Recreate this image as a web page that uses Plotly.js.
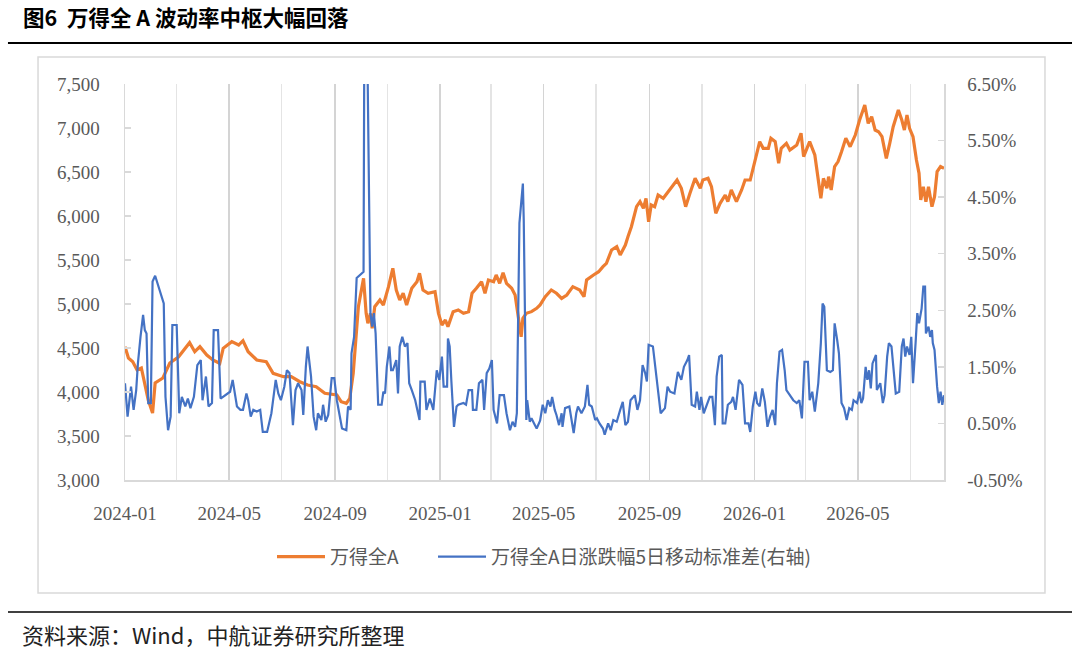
<!DOCTYPE html>
<html>
<head>
<meta charset="utf-8">
<script src="https://cdn.plot.ly/plotly-3.0.1.min.js"></script>
<style>
  html, body { margin: 0; padding: 0; background: #fff; }
  #chart { width: 1080px; height: 654px; }
</style>
</head>
<body>
<div id="chart"></div>
<script>
// 万得全A index level (left axis)
const wdqaDates = [
  '2024-01-01','2024-01-05','2024-01-10','2024-01-15','2024-01-20','2024-01-24','2024-01-28','2024-02-02','2024-02-05','2024-02-14',
  '2024-02-22','2024-03-03','2024-03-09','2024-03-16','2024-03-22','2024-03-28','2024-04-05','2024-04-12','2024-04-20','2024-04-24',
  '2024-05-04','2024-05-12','2024-05-17','2024-05-23','2024-06-02','2024-06-13','2024-06-21','2024-07-03','2024-07-12','2024-07-22',
  '2024-07-31','2024-08-10','2024-08-20','2024-08-30','2024-09-03','2024-09-08','2024-09-14','2024-09-18','2024-09-22','2024-09-28',
  '2024-10-04','2024-10-07','2024-10-09','2024-10-12','2024-10-14','2024-10-17','2024-10-23','2024-10-27','2024-11-02','2024-11-07',
  '2024-11-11','2024-11-15','2024-11-19','2024-11-23','2024-11-29','2024-12-05','2024-12-08','2024-12-12','2024-12-18','2024-12-26',
  '2024-12-30','2025-01-03','2025-01-07','2025-01-10','2025-01-16','2025-01-22','2025-01-28','2025-02-03','2025-02-07','2025-02-12',
  '2025-02-18','2025-02-22','2025-02-26','2025-03-04','2025-03-07','2025-03-11','2025-03-15','2025-03-19','2025-03-25','2025-03-29',
  '2025-04-02','2025-04-05','2025-04-07','2025-04-11','2025-04-17','2025-04-23','2025-04-27','2025-05-03','2025-05-10','2025-05-16',
  '2025-05-22','2025-05-28','2025-06-04','2025-06-12','2025-06-17','2025-06-20','2025-06-28','2025-07-04','2025-07-09','2025-07-13',
  '2025-07-19','2025-07-25','2025-07-29','2025-08-04','2025-08-07','2025-08-11','2025-08-17','2025-08-21','2025-08-25','2025-08-28',
  '2025-08-31','2025-09-03','2025-09-07','2025-09-11','2025-09-17','2025-09-23','2025-09-27','2025-10-03','2025-10-08','2025-10-13',
  '2025-10-18','2025-10-24','2025-10-30','2025-11-02','2025-11-08','2025-11-12','2025-11-17','2025-11-22','2025-11-28','2025-12-01',
  '2025-12-05','2025-12-11','2025-12-17','2025-12-21','2025-12-27','2025-12-30','2026-01-02','2026-01-05','2026-01-07','2026-01-11',
  '2026-01-17','2026-01-20','2026-01-25','2026-01-29','2026-02-01','2026-02-07','2026-02-11','2026-02-19','2026-02-24','2026-02-27',
  '2026-03-03','2026-03-06','2026-03-12','2026-03-16','2026-03-19','2026-03-22','2026-03-26','2026-03-28','2026-03-31','2026-04-04',
  '2026-04-08','2026-04-12','2026-04-17','2026-04-22','2026-04-28','2026-05-03','2026-05-09','2026-05-13','2026-05-17','2026-05-21',
  '2026-05-25','2026-05-29','2026-05-31','2026-06-03','2026-06-07','2026-06-11','2026-06-17','2026-06-21','2026-06-24','2026-06-27',
  '2026-06-30','2026-07-04','2026-07-08','2026-07-11','2026-07-13','2026-07-16','2026-07-19','2026-07-22','2026-07-26','2026-07-29',
  '2026-08-01','2026-08-05','2026-08-09'
];
const wdqaValues = [
  4515,4386,4344,4250,4273,4102,3909,3761,4102,4159,
  4330,4398,4477,4560,4458,4515,4420,4364,4326,4496,
  4572,4534,4583,4458,4364,4344,4212,4174,4174,4117,
  4079,4060,3985,3966,3966,3890,3871,3928,4212,4970,
  5292,4894,4781,4894,4724,4970,5045,4989,5197,5406,
  5159,5045,5122,4989,5178,5254,5349,5159,5122,5140,
  4894,4761,4818,4742,4913,4932,4894,4913,5122,5178,
  5254,5122,5273,5254,5330,5235,5356,5235,5178,5102,
  4818,4628,4838,4894,4913,4951,4990,5083,5159,5122,
  5064,5102,5197,5159,5083,5273,5330,5367,5424,5462,
  5614,5651,5557,5670,5765,5878,6106,6163,6088,6201,
  5935,6125,6106,6239,6201,6277,6333,6409,6315,6106,
  6258,6428,6315,6409,6428,6333,6031,6144,6239,6163,
  6296,6163,6296,6409,6409,6523,6655,6780,6845,6769,
  6769,6883,6845,6599,6769,6826,6750,6807,6940,6674,
  6769,6845,6693,6409,6201,6428,6315,6447,6296,6561,
  6618,6731,6883,6788,6920,7091,7261,7053,7129,6977,
  6958,6901,6788,6655,6826,7015,7205,7091,6977,7148,
  6996,6901,6636,6485,6182,6333,6163,6333,6106,6220,
  6504,6561,6542
];

// 5-day rolling std of daily change, in % (right axis)
const volDates = [
  '2024-01-01','2024-01-04','2024-01-08','2024-01-11','2024-01-14','2024-01-16','2024-01-19','2024-01-22','2024-01-24','2024-01-26',
  '2024-01-28','2024-01-31','2024-02-02','2024-02-05','2024-02-15','2024-02-17','2024-02-20','2024-02-23','2024-02-25','2024-03-01',
  '2024-03-04','2024-03-07','2024-03-11','2024-03-14','2024-03-17','2024-03-21','2024-03-25','2024-03-29','2024-03-31','2024-04-04',
  '2024-04-07','2024-04-11','2024-04-13','2024-04-18','2024-04-21','2024-05-02','2024-05-05','2024-05-10','2024-05-14','2024-05-17',
  '2024-05-21','2024-05-23','2024-05-26','2024-05-29','2024-06-02','2024-06-06','2024-06-09','2024-06-14','2024-06-19','2024-06-24',
  '2024-06-27','2024-06-30','2024-07-04','2024-07-07','2024-07-10','2024-07-12','2024-07-14','2024-07-17','2024-07-20','2024-07-24',
  '2024-07-26','2024-07-29','2024-07-31','2024-08-04','2024-08-07','2024-08-10','2024-08-12','2024-08-16','2024-08-18','2024-08-21',
  '2024-08-24','2024-08-28','2024-08-31','2024-09-03','2024-09-06','2024-09-09','2024-09-14','2024-09-16','2024-09-19','2024-09-20',
  '2024-09-23','2024-09-26','2024-10-04','2024-10-05','2024-10-08','2024-10-12','2024-10-14','2024-10-16','2024-10-18','2024-10-19',
  '2024-10-21','2024-10-25','2024-10-27','2024-10-29','2024-10-31','2024-11-03','2024-11-05','2024-11-07','2024-11-11','2024-11-13',
  '2024-11-15','2024-11-18','2024-11-21','2024-11-24','2024-11-26','2024-11-29','2024-12-03','2024-12-05','2024-12-08','2024-12-09',
  '2024-12-14','2024-12-16','2024-12-20','2024-12-24','2024-12-28','2024-12-31','2025-01-03','2025-01-05','2025-01-09','2025-01-10',
  '2025-01-12','2025-01-14','2025-01-17','2025-01-20','2025-01-22','2025-01-28','2025-01-31','2025-02-03','2025-02-07','2025-02-08',
  '2025-02-12','2025-02-15','2025-02-19','2025-02-21','2025-02-24','2025-02-27','2025-03-02','2025-03-04','2025-03-08','2025-03-11',
  '2025-03-16','2025-03-19','2025-03-23','2025-03-26','2025-03-29','2025-03-31','2025-04-03','2025-04-07','2025-04-08','2025-04-11',
  '2025-04-12','2025-04-15','2025-04-17','2025-04-20','2025-04-23','2025-04-27','2025-04-30','2025-05-03','2025-05-06','2025-05-09',
  '2025-05-11','2025-05-14','2025-05-16','2025-05-19','2025-05-22','2025-05-23','2025-05-26','2025-05-31','2025-06-03','2025-06-05',
  '2025-06-08','2025-06-10','2025-06-14','2025-06-18','2025-06-21','2025-06-23','2025-06-26','2025-06-30','2025-07-02','2025-07-05',
  '2025-07-09','2025-07-11','2025-07-15','2025-07-18','2025-07-21','2025-07-25','2025-07-29','2025-08-01','2025-08-04','2025-08-07',
  '2025-08-10','2025-08-15','2025-08-18','2025-08-21','2025-08-24','2025-08-27','2025-08-29','2025-08-31','2025-09-05','2025-09-07',
  '2025-09-10','2025-09-14','2025-09-19','2025-09-22','2025-09-25','2025-09-30','2025-10-04','2025-10-08','2025-10-11','2025-10-15',
  '2025-10-17','2025-10-20','2025-10-24','2025-10-26','2025-10-29','2025-10-31','2025-11-03','2025-11-06','2025-11-10','2025-11-13',
  '2025-11-16','2025-11-18','2025-11-21','2025-11-24','2025-11-25','2025-11-28','2025-12-01','2025-12-05','2025-12-07','2025-12-10',
  '2025-12-14','2025-12-18','2025-12-21','2025-12-25','2025-12-27','2025-12-30','2026-01-02','2026-01-04','2026-01-07','2026-01-10',
  '2026-01-13','2026-01-16','2026-01-19','2026-01-22','2026-01-25','2026-01-27','2026-01-30','2026-02-02','2026-02-05','2026-02-07',
  '2026-02-11','2026-02-15','2026-02-19','2026-02-22','2026-02-25','2026-02-27','2026-02-28','2026-03-04','2026-03-06','2026-03-09',
  '2026-03-12','2026-03-16','2026-03-19','2026-03-21','2026-03-23','2026-03-26','2026-03-30','2026-04-02','2026-04-04','2026-04-07',
  '2026-04-09','2026-04-12','2026-04-15','2026-04-18','2026-04-21','2026-04-24','2026-04-26','2026-04-30','2026-05-03','2026-05-05',
  '2026-05-07','2026-05-10','2026-05-12','2026-05-14','2026-05-16','2026-05-18','2026-05-22','2026-05-23','2026-05-27','2026-05-30',
  '2026-06-01','2026-06-04','2026-06-06','2026-06-09','2026-06-11','2026-06-14','2026-06-18','2026-06-21','2026-06-23','2026-06-25',
  '2026-06-27','2026-06-30','2026-07-02','2026-07-04','2026-07-07','2026-07-09','2026-07-11','2026-07-13','2026-07-14','2026-07-16',
  '2026-07-18','2026-07-19','2026-07-22','2026-07-24','2026-07-26','2026-07-27','2026-07-29','2026-08-01','2026-08-03','2026-08-05',
  '2026-08-07','2026-08-09'
];
const volValues = [
  1.21,0.62,1.15,0.74,1.09,1.56,2.03,2.42,2.15,2.09,
  0.86,0.86,3.01,3.11,2.62,0.97,0.38,0.62,2.24,2.24,
  0.68,0.97,0.80,0.94,0.77,0.97,1.53,1.62,0.91,1.33,
  0.80,0.86,2.15,2.15,0.94,1.06,1.27,0.80,0.74,0.74,
  1.03,0.91,0.62,0.74,0.71,0.74,0.35,0.35,0.68,1.27,
  1.03,0.91,1.15,1.44,1.39,0.97,0.47,1.09,1.21,1.09,
  0.65,1.50,1.86,1.33,0.62,0.38,0.68,0.56,0.83,0.53,
  0.65,1.30,1.30,0.91,0.68,0.41,0.38,0.80,0.74,1.74,
  2.03,3.07,3.18,7.80,7.60,2.45,2.21,2.45,2.09,1.68,
  0.83,0.83,1.06,1.03,1.50,1.86,1.44,1.44,1.62,1.03,
  1.86,2.03,1.86,1.92,1.21,1.09,0.91,0.77,0.56,1.24,
  1.24,0.74,0.94,0.74,1.44,1.27,1.68,1.15,1.15,2.00,
  1.86,1.24,0.44,0.80,0.83,0.86,0.83,1.09,1.09,0.74,
  0.74,1.21,1.27,0.74,1.39,1.47,1.62,0.74,0.50,1.00,
  1.00,0.68,0.38,0.53,0.44,0.68,4.04,4.74,4.10,0.56,
  0.91,0.53,0.59,0.50,0.41,0.55,0.83,0.68,0.91,0.80,
  0.97,0.74,0.65,0.47,0.68,0.44,0.77,0.80,0.56,0.33,
  0.68,0.80,0.68,0.80,1.18,0.83,0.80,0.56,0.59,0.50,
  0.41,0.30,0.50,0.38,0.56,0.53,0.74,0.88,0.47,0.53,
  0.91,1.00,0.74,0.91,1.53,1.39,1.24,1.89,1.86,1.62,
  1.18,0.68,0.77,1.15,1.06,1.03,1.41,1.27,1.50,1.62,
  1.71,0.83,0.80,1.06,0.74,0.97,0.68,0.80,0.97,0.97,
  0.47,1.33,1.68,1.71,0.50,0.50,0.83,0.88,0.97,0.74,
  1.27,1.18,0.50,0.50,0.35,0.80,1.06,0.86,0.80,1.12,
  0.88,0.44,0.62,0.74,0.47,1.21,1.77,1.80,1.44,1.09,
  1.00,0.91,0.86,0.91,0.59,1.50,1.59,1.59,0.91,1.06,
  0.71,1.21,1.92,2.62,2.56,1.44,1.41,1.44,2.27,1.97,
  1.74,0.86,0.77,0.56,0.77,0.74,0.91,0.86,1.06,0.86,
  0.94,1.50,1.27,1.44,1.12,1.56,1.71,1.09,1.21,0.86,
  1.00,1.68,1.92,1.86,1.50,1.03,1.06,1.86,2.00,1.68,
  1.86,1.71,2.03,1.21,1.92,2.45,2.27,2.50,2.53,2.92,
  2.92,2.09,2.21,2.03,2.15,1.92,1.80,1.15,0.86,1.06,
  0.83,1.00
];

const seriesNames = ['万得全A', '万得全A日涨跌幅5日移动标准差(右轴)'];
const leftTicks = [3000, 3500, 4000, 4500, 5000, 5500, 6000, 6500, 7000, 7500];
const rightTicks = [-0.5, 0.5, 1.5, 2.5, 3.5, 4.5, 5.5, 6.5];
const xRange = ['2024-01-01', '2026-08-09'];

const numFont = { family: '"Liberation Serif", "DejaVu Serif", serif', size: 19, color: '#595959' };
const cjk = '"Noto Sans CJK SC", "Noto Sans", sans-serif';
const legendFont = { family: cjk, size: 19, color: '#595959' };

const traces = [
  {
    x: wdqaDates, y: wdqaValues,
    type: 'scatter', mode: 'lines', name: seriesNames[0],
    line: { color: '#ED7D31', width: 3.2 },
    yaxis: 'y', legend: 'legend'
  },
  {
    x: volDates, y: volValues,
    type: 'scatter', mode: 'lines', name: seriesNames[1],
    line: { color: '#4472C4', width: 2.2 },
    yaxis: 'y2', legend: 'legend2'
  }
];

const layout = {
  width: 1080, height: 654,
  paper_bgcolor: '#fff', plot_bgcolor: '#fff',
  margin: { l: 125, r: 136, t: 84, b: 174 },
  showlegend: true,
  title: {
    text: '<b>图6\u00a0\u00a0万得全\u00a0A\u00a0波动率中枢大幅回落</b>',
    xref: 'container', yref: 'container',
    x: 23 / 1080, xanchor: 'left',
    y: 1 - 18 / 654, yanchor: 'middle',
    font: { family: cjk, size: 21.5, color: '#000' }
  },
  xaxis: {
    type: 'date',
    range: xRange,
    tick0: '2024-01-01', dtick: 'M4', tickformat: '%Y-%m',
    ticks: '', showline: true, linecolor: '#d9d9d9', linewidth: 1.5,
    showgrid: true, gridcolor: '#d4d4d4', gridwidth: 1.5,
    minor: { tick0: '2024-01-01', dtick: 'M2', showgrid: true, gridcolor: '#e4e4e4', gridwidth: 1.2, ticks: '' },
    zeroline: false,
    tickfont: numFont,
    ticklabelstandoff: 16,
    fixedrange: true
  },
  yaxis: {
    range: [3000, 7500],
    tickvals: leftTicks, tickformat: ',d',
    ticks: 'inside', ticklen: 6, tickwidth: 1.5, tickcolor: '#d9d9d9',
    showline: true, linecolor: '#d9d9d9', linewidth: 1.5,
    showgrid: false, zeroline: false,
    tickfont: numFont,
    ticklabelstandoff: 20
  },
  yaxis2: {
    overlaying: 'y', side: 'right',
    range: [-0.5, 6.5],
    tickvals: rightTicks,
    ticktext: rightTicks.map(v => v.toFixed(2) + '%'),
    ticks: 'inside', ticklen: 6, tickwidth: 1.5, tickcolor: '#d9d9d9',
    showline: true, linecolor: '#d9d9d9', linewidth: 1.5,
    showgrid: false, zeroline: false,
    tickfont: numFont,
    ticklabelstandoff: 18
  },
  legend: {
    orientation: 'h',
    x: (272 - 125) / 819, xanchor: 'left',
    y: -0.194, yanchor: 'middle',
    font: legendFont,
    itemwidth: 48,
    bgcolor: 'rgba(0,0,0,0)'
  },
  legend2: {
    orientation: 'h',
    x: (433 - 125) / 819, xanchor: 'left',
    y: -0.194, yanchor: 'middle',
    font: legendFont,
    itemwidth: 48,
    bgcolor: 'rgba(0,0,0,0)'
  },
  shapes: [
    // rule under the figure title
    { type: 'line', xref: 'paper', yref: 'paper', x0: -0.1429, x1: 1.1563, y0: 1.1035, y1: 1.1035,
      line: { color: '#000', width: 2 } },
    // chart frame
    { type: 'rect', xref: 'paper', yref: 'paper', x0: -0.1062, x1: 1.1233, y0: -0.2854, y1: 1.0682,
      line: { color: '#d9d9d9', width: 1.5 }, fillcolor: 'rgba(0,0,0,0)', layer: 'below' },
    // rule above the source note
    { type: 'line', xref: 'paper', yref: 'paper', x0: -0.1429, x1: 1.1563, y0: -0.3333, y1: -0.3333,
      line: { color: '#000', width: 1.5 } }
  ],
  annotations: [
    {
      text: '资料来源：Wind，中航证券研究所整理',
      xref: 'paper', yref: 'paper',
      x: -0.1282, xanchor: 'left',
      y: -0.389, yanchor: 'middle',
      showarrow: false,
      font: { family: cjk, size: 22, color: '#222' }
    }
  ]
};

Plotly.newPlot('chart', traces, layout, { displayModeBar: false, staticPlot: true });
</script>
</body>
</html>
